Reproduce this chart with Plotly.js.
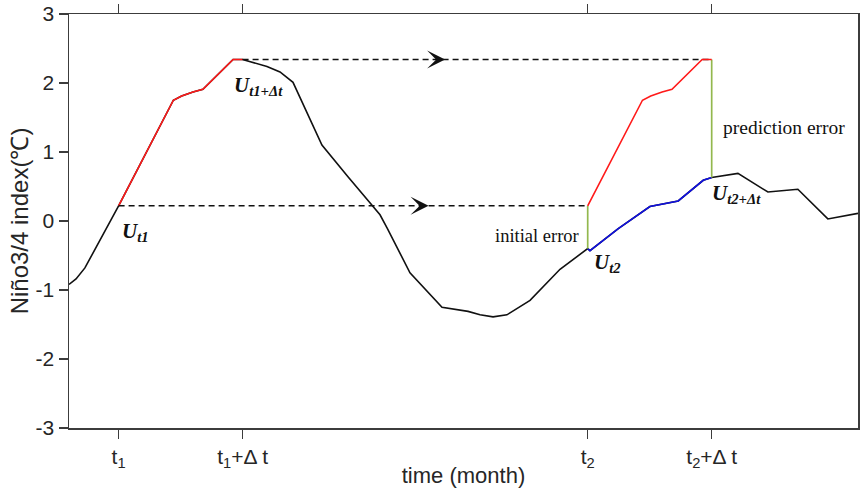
<!DOCTYPE html>
<html>
<head>
<meta charset="utf-8">
<script src="https://cdn.plot.ly/plotly-3.0.1.min.js"></script>
<style>html,body{margin:0;padding:0;background:#fff;}#chart{width:860px;height:488px;}</style>
</head>
<body>
<div id="chart"></div>
<script>
// time in months, Niño3/4 index in °C
const time = [0, 0.34, 0.77, 2.4, 5.05, 5.45, 6.0, 6.48, 7.94, 8.4, 9.58, 10.21, 10.84, 12.24, 13.5, 14.56, 15.05, 15.39, 16.5, 18.05, 19.31, 19.89, 20.52, 21.19, 22.31, 23.76, 25.1, 25.21, 26.58, 28.11, 29.48, 30.69, 31.1, 32.37, 33.82, 35.27, 36.72, 38.18];
const nino = [-0.92, -0.84, -0.68, 0.22, 1.75, 1.81, 1.87, 1.91, 2.34, 2.34, 2.24, 2.16, 2.01, 1.10, 0.64, 0.26, 0.09, -0.10, -0.75, -1.25, -1.31, -1.36, -1.39, -1.36, -1.15, -0.70, -0.40, -0.43, -0.11, 0.21, 0.29, 0.59, 0.63, 0.69, 0.42, 0.46, 0.03, 0.11];
const t1 = 2.4, dt = 6, t2 = 25.1;
const xMax = 38.18;
const xTickLabels = ['t<sub>1</sub>', 't<sub>1</sub>+Δ t', 't<sub>2</sub>', 't<sub>2</sub>+Δ t'];
const yTickVals = [-3, -2, -1, 0, 1, 2, 3];
const yTickLabels = ['-3', '-2', '-1', '0', '1', '2', '3'];
const arrowTips = [17.4, 18.2]; // positions of the arrow heads on the lower and upper dashed line

const eps = 1e-6;
const inRange = (t, a, b) => t >= a - eps && t <= b + eps;
const redT = [], redV = [], blueT = [], blueV = [];
time.forEach((t, i) => {
  if (inRange(t, t1, t1 + dt)) { redT.push(t); redV.push(nino[i]); }
  if (inRange(t, t2, t2 + dt)) { blueT.push(t); blueV.push(nino[i]); }
});
const shift = t2 - t1;
const analogT = redT.map(t => t + shift);
const analogV = redV.slice();
const uT1 = redV[0], uT1dt = redV[redV.length - 1];
const uT2 = blueV[0], uT2dt = blueV[blueV.length - 1];

const black = '#111111', red = '#ff1a1a', blue = '#1010e0', green = '#93b84e';
const traces = [
  {x: time, y: nino, mode: 'lines', line: {color: black, width: 1.6}},
  {x: redT, y: redV, mode: 'lines', line: {color: red, width: 1.6}},
  {x: blueT, y: blueV, mode: 'lines', line: {color: blue, width: 1.6}},
  {x: [t1, t2], y: [uT1, uT1], mode: 'lines', line: {color: black, width: 1.5, dash: '6px,4px'}},
  {x: [t1 + dt, t2 + dt], y: [uT1dt, uT1dt], mode: 'lines', line: {color: black, width: 1.5, dash: '6px,4px'}},
  {x: [t2, t2], y: [uT2, uT1], mode: 'lines', line: {color: green, width: 1.7}},
  {x: [t2 + dt, t2 + dt], y: [uT2dt, uT1dt], mode: 'lines', line: {color: green, width: 1.7}},
  {x: analogT, y: analogV, mode: 'lines', line: {color: red, width: 1.6}}
];

const serif = 'Liberation Serif, Times New Roman, serif';
const uFont = {family: serif, size: 21, color: '#111'};
const sub = s => '<b><i>U<sub>' + s + '</sub></i></b>';
const annotations = [
  {x: t1, y: uT1, xref: 'x', yref: 'y', text: sub('t1'), showarrow: false, xanchor: 'left', yanchor: 'top', xshift: 1, yshift: -11, font: uFont},
  {x: t1 + dt, y: uT1dt, xref: 'x', yref: 'y', text: sub('t1+Δt'), showarrow: false, xanchor: 'left', yanchor: 'top', xshift: -11, yshift: -11, font: uFont},
  {x: t2, y: uT2, xref: 'x', yref: 'y', text: sub('t2'), showarrow: false, xanchor: 'left', yanchor: 'top', xshift: 4, yshift: 1, font: uFont},
  {x: t2 + dt, y: uT2dt, xref: 'x', yref: 'y', text: sub('t2+Δt'), showarrow: false, xanchor: 'left', yanchor: 'top', xshift: -2, yshift: -1, font: uFont},
  {x: t2 + dt, y: 1.35, xref: 'x', yref: 'y', text: 'prediction error', showarrow: false, xanchor: 'left', yanchor: 'middle', xshift: 9, font: {family: serif, size: 19.5, color: '#111'}},
  {x: t2, y: -0.22, xref: 'x', yref: 'y', text: 'initial error', showarrow: false, xanchor: 'right', yanchor: 'middle', xshift: -7, font: {family: serif, size: 18.5, color: '#111'}},
  {x: arrowTips[0], y: uT1, xref: 'x', yref: 'y', text: '', showarrow: true, arrowhead: 3, arrowsize: 2, arrowwidth: 1.5, arrowcolor: black, ax: -8, ay: 0},
  {x: arrowTips[1], y: uT1dt, xref: 'x', yref: 'y', text: '', showarrow: true, arrowhead: 3, arrowsize: 2, arrowwidth: 1.5, arrowcolor: black, ax: -8, ay: 0}
];

const axisCol = '#3c3c3c';
const sans = 'Liberation Sans, Arial, sans-serif';
const tickFont = {family: sans, size: 21, color: '#262626'};
const layout = {
  width: 860, height: 488,
  margin: {l: 69, r: 2, t: 14, b: 60, pad: 0},
  paper_bgcolor: '#fff', plot_bgcolor: '#fff',
  showlegend: false,
  xaxis: {
    range: [0, xMax], tickmode: 'array', tickvals: [t1, t1 + dt, t2, t2 + dt], ticktext: xTickLabels,
    ticks: 'outside', ticklen: 9, tickwidth: 1.5, tickcolor: axisCol,
    showline: true, linecolor: axisCol, linewidth: 1.5, mirror: 'ticks',
    showgrid: false, zeroline: false, tickfont: tickFont,
    title: {text: 'time (month)', font: {family: sans, size: 22, color: '#262626'}, standoff: 0}
  },
  yaxis: {
    range: [-3, 3], tickmode: 'array', tickvals: yTickVals, ticktext: yTickLabels,
    ticks: 'outside', ticklen: 9, tickwidth: 1.5, tickcolor: axisCol,
    showline: true, linecolor: axisCol, linewidth: 1.5, mirror: true,
    showgrid: false, zeroline: false, tickfont: tickFont,
    title: {text: 'Niño3/4 index(℃)', font: {family: sans, size: 24, color: '#262626'}, standoff: 0}
  },
  annotations: annotations
};

Plotly.newPlot('chart', traces, layout, {displayModeBar: false, staticPlot: true});
</script>
</body>
</html>
